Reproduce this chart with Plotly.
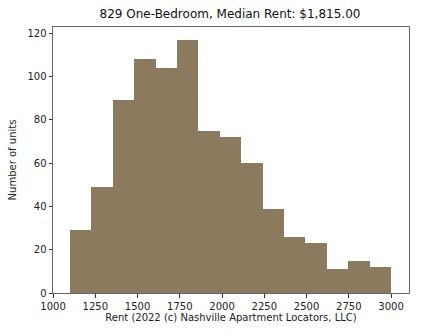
import numpy as np
import plotly.graph_objects as go

bin_start = 1100
bin_end = 3000
counts = [29, 49, 89, 108, 104, 117, 75, 72, 60, 39, 26, 23, 11, 15, 12]
x_ticks = [1000, 1250, 1500, 1750, 2000, 2250, 2500, 2750, 3000]
y_ticks = [0, 20, 40, 60, 80, 100, 120]
title = "829 One-Bedroom, Median Rent: $1,815.00"
x_title = "Rent (2022 (c) Nashville Apartment Locators, LLC)"
y_title = "Number of units"

edges = np.linspace(bin_start, bin_end, len(counts) + 1)
centers = (edges[:-1] + edges[1:]) / 2
widths = np.diff(edges)

fig = go.Figure(go.Bar(
    x=centers, y=counts, width=widths,
    marker=dict(color="#8b7a5e", line=dict(width=0)),
))

W, H = 433, 336
left, right, top, bottom = 51, 409, 27, 293
fig.update_layout(
    width=W, height=H,
    margin=dict(l=left, r=W - right, t=top, b=H - bottom),
    paper_bgcolor="white", plot_bgcolor="white",
    font=dict(family="DejaVu Sans", size=10, color="#222"),
    showlegend=False,
    bargap=0,
    title=dict(text=title, x=(left + right) / 2 / W, xanchor="center",
               y=1 - 14 / H, yanchor="middle", font=dict(size=12, color="#111")),
)
fig.update_xaxes(
    range=[999.5, 3106], tickvals=x_ticks, ticks="outside", ticklen=3.5,
    tickcolor="#333", showline=True, linecolor="#666", linewidth=1, mirror=True,
    showgrid=False, zeroline=False, tickfont=dict(size=10),
    title=dict(text=x_title, font=dict(size=10), standoff=2),
)
fig.update_yaxes(
    range=[0, 122.85], tickvals=y_ticks, ticks="outside", ticklen=3.5,
    tickcolor="#333", showline=True, linecolor="#666", linewidth=1, mirror=True,
    showgrid=False, zeroline=False, tickfont=dict(size=10),
    title=dict(text=y_title, font=dict(size=10), standoff=8),
)
fig.write_html("out.html")
